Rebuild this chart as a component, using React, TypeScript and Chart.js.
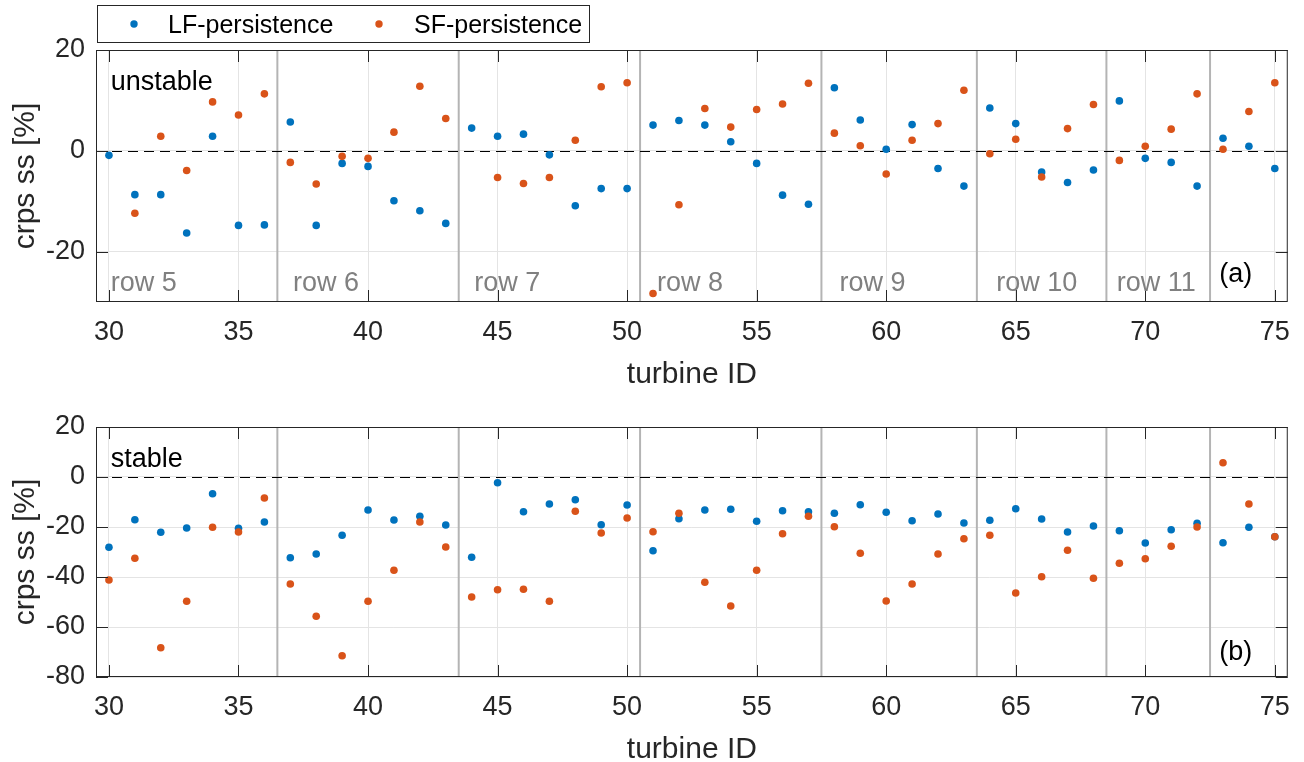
import React, { useEffect, useRef } from "react";
import { Chart, registerables } from "chart.js";

Chart.register(...registerables);

const turbineIds = [30, 31, 32, 33, 34, 35, 36, 37, 38, 39, 40, 41, 42, 43, 44, 45, 46, 47, 48, 49, 50, 51, 52, 53, 54, 55, 56, 57, 58, 59, 60, 61, 62, 63, 64, 65, 66, 67, 68, 69, 70, 71, 72, 73, 74, 75];

const lfUnstable = [-0.9, -8.7, -8.7, -16.3, 2.9, -14.8, -14.7, 5.7, -14.8, -2.5, -3.1, -9.9, -11.9, -14.4, 4.5, 2.9, 3.3, -0.8, -10.9, -7.5, -7.5, 5.1, 6.0, 5.1, 1.8, -2.5, -8.8, -10.6, 12.5, 6.1, 0.3, 5.2, -3.5, -7.0, 8.5, 5.4, -4.2, -6.3, -3.8, 9.9, -1.5, -2.3, -7.0, 2.5, 0.9, -3.5];
const sfUnstable = [null, -12.4, 2.9, -3.9, 9.7, 7.1, 11.3, -2.3, -6.6, -1.1, -1.5, 3.7, 12.8, 6.4, null, -5.3, -6.5, -5.3, 2.1, 12.7, 13.5, -28.3, -10.7, 8.4, 4.7, 8.2, 9.3, 13.4, 3.5, 1.0, -4.6, 2.1, 5.4, 12.0, -0.6, 2.3, -5.2, 4.4, 9.2, -1.9, 0.9, 4.3, 11.3, 0.3, 7.8, 13.5];
const lfStable = [-28.1, -17.1, -22.1, -20.4, -6.7, -20.5, -18.0, -32.3, -30.8, -23.3, -13.2, -17.2, -15.7, -19.2, -32.1, -2.3, -13.9, -10.8, -9.1, -19.1, -11.2, -29.5, -16.7, -13.2, -12.9, -17.7, -13.5, -13.9, -14.5, -11.1, -14.1, -17.5, -14.8, -18.4, -17.3, -12.7, -16.8, -22.0, -19.6, -21.5, -26.4, -21.1, -18.5, -26.3, -20.1, -23.9];
const sfStable = [-41.2, -32.5, -68.3, -49.7, -20.1, -22.0, -8.4, -42.8, -55.7, -71.5, -49.7, -37.3, -18.0, -28.0, -48.0, -45.1, -44.9, -49.7, -13.7, -22.4, -16.4, -21.9, -14.5, -42.1, -51.6, -37.3, -22.7, -15.7, -19.9, -30.5, -49.6, -42.8, -30.8, -24.7, -23.3, -46.4, -39.9, -29.3, -40.5, -34.5, -32.7, -27.7, -20.0, 5.7, -10.8, -23.9];

const xTicks = [30, 35, 40, 45, 50, 55, 60, 65, 70, 75];
const yTicksUnstable = [-20, 0, 20];
const yTicksStable = [-80, -60, -40, -20, 0, 20];
const rowBoundaries = [36.5, 43.5, 50.5, 57.5, 63.5, 68.5, 72.5];
const rowLabels = ["row 5", "row 6", "row 7", "row 8", "row 9", "row 10", "row 11"];
const rowLabelX = [30.07, 37.1, 44.1, 51.15, 58.2, 64.25, 68.9];
const seriesNames = ["LF-persistence", "SF-persistence"];

const BLUE = "#0072BD";
const ORANGE = "#D95319";
const DARK = "#262626";
const FONT = "'Liberation Sans', Arial, Helvetica, sans-serif";

type PanelCfg = {
  lf: (number | null)[];
  sf: (number | null)[];
  yMin: number;
  yMax: number;
  yTicks: number[];
  padTop: number;
  xAxisHeight: number;
  title: string;
  titleY: number;
  tag: string;
  tagY: number;
  showRows: boolean;
  rowY: number;
  showLegend: boolean;
};

function makePlugin(cfg: PanelCfg) {
  return {
    id: "panelDecor",
    beforeDatasetsDraw(chart: any) {
      const { ctx, chartArea: a, scales } = chart;
      const x = scales.x;
      const y = scales.y;
      ctx.save();
      ctx.strokeStyle = "#b4b4b4";
      ctx.lineWidth = 2;
      rowBoundaries.forEach((b) => {
        const px = x.getPixelForValue(b);
        ctx.beginPath();
        ctx.moveTo(px, a.top);
        ctx.lineTo(px, a.bottom);
        ctx.stroke();
      });
      ctx.setLineDash([10, 6]);
      ctx.strokeStyle = "#000";
      ctx.lineWidth = 1;
      const py = Math.round(y.getPixelForValue(0)) + 0.5;
      ctx.beginPath();
      ctx.moveTo(a.left, py);
      ctx.lineTo(a.right, py);
      ctx.stroke();
      ctx.restore();
    },
    afterDatasetsDraw(chart: any) {
      const { ctx, chartArea: a, scales } = chart;
      const x = scales.x;
      const y = scales.y;
      ctx.save();
      // box
      ctx.strokeStyle = DARK;
      ctx.lineWidth = 1;
      ctx.strokeRect(a.left + 0.5, a.top + 0.5, a.right - a.left - 1, a.bottom - a.top - 1);
      // inward ticks
      const tl = 12;
      ctx.beginPath();
      xTicks.forEach((v) => {
        const px = Math.round(x.getPixelForValue(v)) + 0.5;
        ctx.moveTo(px, a.bottom);
        ctx.lineTo(px, a.bottom - tl);
        ctx.moveTo(px, a.top);
        ctx.lineTo(px, a.top + tl);
      });
      cfg.yTicks.forEach((v) => {
        const py = Math.round(y.getPixelForValue(v)) + 0.5;
        ctx.moveTo(a.left, py);
        ctx.lineTo(a.left + tl, py);
        ctx.moveTo(a.right, py);
        ctx.lineTo(a.right - tl, py);
      });
      ctx.stroke();

      // annotations
      ctx.textBaseline = "alphabetic";
      ctx.textAlign = "left";
      ctx.font = `27px ${FONT}`;
      if (cfg.showRows) {
        ctx.fillStyle = "#808080";
        rowLabels.forEach((t, i) => {
          ctx.fillText(t, x.getPixelForValue(rowLabelX[i]), y.getPixelForValue(cfg.rowY));
        });
      }
      ctx.fillStyle = "#000";
      ctx.fillText(cfg.title, x.getPixelForValue(30.07), y.getPixelForValue(cfg.titleY));
      ctx.fillText(cfg.tag, x.getPixelForValue(72.86), y.getPixelForValue(cfg.tagY));

      // axis titles
      ctx.fillStyle = DARK;
      ctx.font = `30px ${FONT}`;
      ctx.textAlign = "center";
      ctx.fillText("turbine ID", (a.left + a.right) / 2, a.bottom + 81);
      ctx.save();
      ctx.translate(34, (a.top + a.bottom) / 2);
      ctx.rotate(-Math.PI / 2);
      ctx.fillText("crps ss [%]", 0, 0);
      ctx.restore();

      // legend
      if (cfg.showLegend) {
        ctx.fillStyle = "#fff";
        ctx.fillRect(97, 5, 493, 37);
        ctx.strokeStyle = DARK;
        ctx.lineWidth = 1;
        ctx.strokeRect(97.5, 5.5, 492, 37);
        ctx.font = `25px ${FONT}`;
        ctx.textAlign = "left";
        const items = [
          { c: BLUE, dot: 134, tx: 168 },
          { c: ORANGE, dot: 379, tx: 414 },
        ];
        items.forEach((it, i) => {
          ctx.fillStyle = it.c;
          ctx.beginPath();
          ctx.arc(it.dot, 24, 3.7, 0, Math.PI * 2);
          ctx.fill();
          ctx.fillStyle = "#000";
          ctx.fillText(seriesNames[i], it.tx, 33);
        });
      }
      ctx.restore();
    },
  };
}

function buildChart(canvas: HTMLCanvasElement, cfg: PanelCfg) {
  const toPts = (arr: (number | null)[]) => turbineIds.map((t, i) => ({ x: t, y: arr[i] }));
  return new Chart(canvas, {
    type: "scatter",
    data: {
      datasets: [
        {
          label: seriesNames[0],
          data: toPts(cfg.lf) as any,
          backgroundColor: BLUE,
          borderWidth: 0,
          pointRadius: 3.8,
          order: 1,
        },
        {
          label: seriesNames[1],
          data: toPts(cfg.sf) as any,
          backgroundColor: ORANGE,
          borderWidth: 0,
          pointRadius: 3.8,
          order: 0,
        },
      ],
    },
    options: {
      animation: false,
      responsive: false,
      devicePixelRatio: 1,
      layout: { padding: { top: cfg.padTop, right: 16, left: 0, bottom: 0 } },
      plugins: { legend: { display: false }, tooltip: { enabled: false } },
      scales: {
        x: {
          type: "linear",
          min: 29.5,
          max: 75.5,
          afterBuildTicks: (s: any) => {
            s.ticks = xTicks.map((v) => ({ value: v }));
          },
          afterFit: (s: any) => {
            s.height = cfg.xAxisHeight;
          },
          grid: { color: "#e4e4e4", lineWidth: 1, drawTicks: false },
          border: { display: false },
          ticks: {
            padding: 14,
            color: DARK,
            font: { family: FONT, size: 27 },
            maxRotation: 0,
            autoSkip: false,
          },
        },
        y: {
          type: "linear",
          min: cfg.yMin,
          max: cfg.yMax,
          afterBuildTicks: (s: any) => {
            s.ticks = cfg.yTicks.map((v) => ({ value: v }));
          },
          afterFit: (s: any) => {
            s.width = 96;
          },
          grid: { color: "#e4e4e4", lineWidth: 1, drawTicks: false },
          border: { display: false },
          ticks: {
            padding: 11,
            color: DARK,
            font: { family: FONT, size: 27 },
            autoSkip: false,
          },
        },
      },
    },
    plugins: [makePlugin(cfg)],
  });
}

export default function App() {
  const topRef = useRef<HTMLCanvasElement>(null);
  const botRef = useRef<HTMLCanvasElement>(null);

  useEffect(() => {
    const c1 = buildChart(topRef.current!, {
      lf: lfUnstable,
      sf: sfUnstable,
      yMin: -30,
      yMax: 20,
      yTicks: yTicksUnstable,
      padTop: 50,
      xAxisHeight: 88,
      title: "unstable",
      titleY: 12,
      tag: "(a)",
      tagY: -26,
      showRows: true,
      rowY: -27.8,
      showLegend: true,
    });
    const c2 = buildChart(botRef.current!, {
      lf: lfStable,
      sf: sfStable,
      yMin: -80,
      yMax: 20,
      yTicks: yTicksStable,
      padTop: 37,
      xAxisHeight: 85,
      title: "stable",
      titleY: 4,
      tag: "(b)",
      tagY: -73,
      showRows: false,
      rowY: 0,
      showLegend: false,
    });
    return () => {
      c1.destroy();
      c2.destroy();
    };
  }, []);

  return (
    <div style={{ position: "absolute", left: 0, top: 0, width: 1304, height: 762, background: "#fff" }}>
      <canvas ref={topRef} width={1304} height={390} style={{ position: "absolute", left: 0, top: 0, width: 1304, height: 390 }} />
      <canvas ref={botRef} width={1304} height={372} style={{ position: "absolute", left: 0, top: 390, width: 1304, height: 372 }} />
    </div>
  );
}
